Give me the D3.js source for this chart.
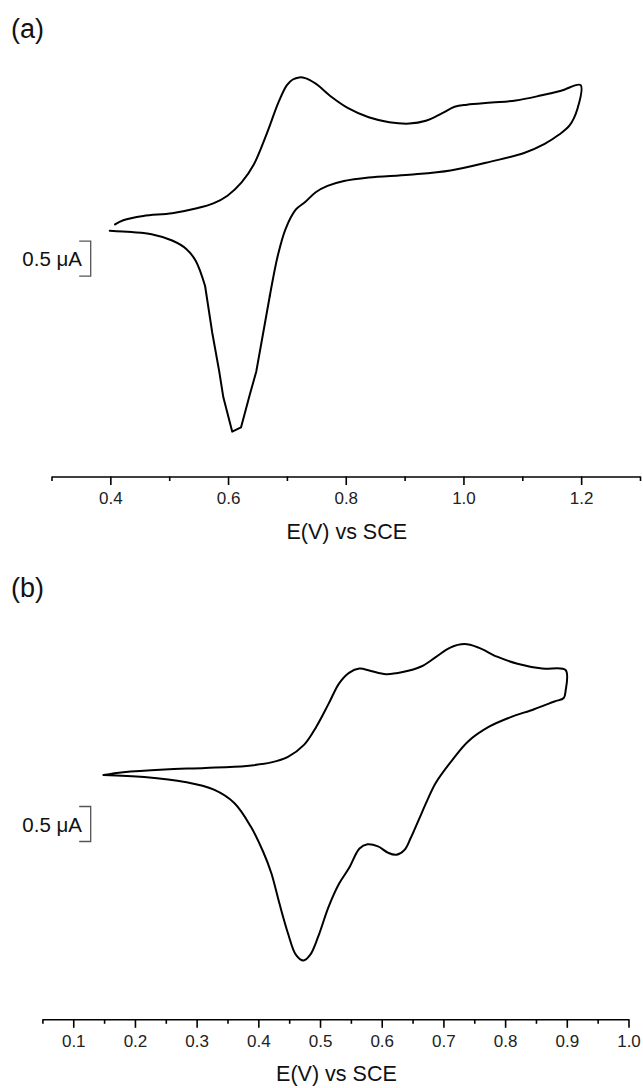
<!DOCTYPE html>
<html><head><meta charset="utf-8">
<script src="https://cdn.jsdelivr.net/npm/d3@7"></script>
<style>body{margin:0;background:#fff}svg{display:block;font-family:"Liberation Sans",Arial,sans-serif}</style>
</head><body>
<svg id="c" width="643" height="1088"></svg>
<script>
// Panel (a) cyclic voltammogram: potential (V vs SCE) and current (µA, arbitrary offset)
const aPotential = [0.408,0.422,0.456,0.505,0.547,0.575,0.599,0.623,0.644,0.665,0.686,0.700,0.710,0.721,0.731,0.749,0.776,0.804,0.839,0.874,0.908,0.936,0.964,0.985,1.006,1.048,1.089,1.131,1.166,1.199,
  1.194,1.180,1.162,1.138,1.103,1.048,0.978,0.908,0.839,0.797,0.769,0.749,0.731,0.715,0.698,0.685,0.671,0.658,0.648,0.637,0.622,0.607,0.592,0.585,0.573,0.561,0.545,0.529,0.505,0.470,0.436,0.399];
const aCurrent = [0.09,0.15,0.21,0.25,0.32,0.39,0.50,0.69,0.95,1.37,1.84,2.08,2.16,2.19,2.18,2.10,1.91,1.75,1.62,1.55,1.53,1.57,1.68,1.77,1.80,1.83,1.86,1.93,2.00,2.08,
  1.75,1.50,1.37,1.24,1.11,0.99,0.86,0.80,0.76,0.71,0.64,0.55,0.41,0.30,0.03,-0.34,-0.93,-1.54,-2.01,-2.34,-2.81,-2.87,-2.38,-2.01,-1.45,-0.79,-0.43,-0.26,-0.14,-0.05,-0.02,0.00];
// index range of the sparsely sampled cathodic peak, drawn with straight segments
const aLinearSpan = [46, 55];
const aTicksMajor = [0.4,0.6,0.8,1.0,1.2];
const aTicksMinor = [0.3,0.5,0.7,0.9,1.1,1.3];
const aScaleBar = [-0.65,-0.15];

// Panel (b)
const bPotential = [0.149,0.181,0.248,0.314,0.381,0.421,0.448,0.474,0.494,0.514,0.531,0.547,0.564,0.581,0.607,0.634,0.664,0.687,0.711,0.734,0.757,0.787,0.820,0.860,0.898,
  0.898,0.895,0.880,0.847,0.807,0.774,0.740,0.714,0.687,0.674,0.660,0.647,0.637,0.624,0.610,0.594,0.577,0.564,0.547,0.531,0.514,0.497,0.484,0.473,0.461,0.448,0.434,0.421,0.408,0.388,0.361,0.328,0.281,0.215,0.149];
const bCurrent = [0.00,0.04,0.08,0.10,0.13,0.18,0.26,0.43,0.69,1.02,1.31,1.46,1.52,1.49,1.44,1.47,1.55,1.68,1.82,1.87,1.82,1.69,1.59,1.52,1.50,
  1.20,1.10,1.05,0.94,0.82,0.69,0.48,0.21,-0.12,-0.36,-0.64,-0.90,-1.07,-1.14,-1.11,-1.02,-0.99,-1.05,-1.33,-1.55,-1.88,-2.31,-2.57,-2.65,-2.57,-2.26,-1.83,-1.40,-1.10,-0.74,-0.40,-0.21,-0.10,-0.03,0.00];
const bTicksMajor = [0.1,0.2,0.3,0.4,0.5,0.6,0.7,0.8,0.9,1.0];
const bTicksMinor = [0.05,0.15,0.25,0.35,0.45,0.55,0.65,0.75,0.85,0.95];
const bScaleBar = [-0.95,-0.45];

const xLabel = "E(V) vs SCE";
const scaleLabel = "0.5 \u03bcA";

const svg = d3.select("#c");

function panel(cfg){
  const g = svg.append("g");
  const x = d3.scaleLinear().domain(cfg.xDomain).range(cfg.xRange);
  const y = d3.scaleLinear().domain([0,1]).range([cfg.y0, cfg.y0-70]);
  g.append("text").attr("x",11).attr("y",cfg.letterY).attr("font-size",27).attr("fill","#111").text(cfg.letter);
  const pts = cfg.V.map((v,i)=>[v,cfg.I[i]]);
  const smooth = d3.line().x(d=>x(d[0])).y(d=>y(d[1])).curve(d3.curveCatmullRom.alpha(0.5));
  const straight = d3.line().x(d=>x(d[0])).y(d=>y(d[1]));
  let segs;
  if (cfg.linearSpan) {
    const [s,e] = cfg.linearSpan;
    segs = [[pts.slice(0,s+1),smooth],[pts.slice(s,e+1),straight],[pts.slice(e),smooth]];
  } else segs = [[pts,smooth]];
  segs.forEach(([p,gen])=>{
    g.append("path").datum(p).attr("fill","none").attr("stroke","#000").attr("stroke-width",2)
      .attr("stroke-linejoin","round").attr("stroke-linecap","round").attr("d", gen);
  });
  // axes
  const ax = g.append("g").attr("transform",`translate(0,${cfg.axisY})`);
  ax.call(d3.axisBottom(x).tickValues(cfg.minor).tickSize(4.5).tickSizeOuter(0).tickFormat(""));
  const ax2 = g.append("g").attr("transform",`translate(0,${cfg.axisY})`);
  ax2.call(d3.axisBottom(x).tickValues(cfg.major).tickSize(8.5).tickSizeOuter(0).tickFormat(d3.format(".1f")));
  ax2.select(".domain").remove();
  g.selectAll(".domain, .tick line").attr("stroke","#000").attr("stroke-width",1.6);
  ax2.selectAll(".tick text").attr("font-size",17).attr("font-family","Liberation Sans, Arial, sans-serif")
    .attr("fill","#222").attr("y",27.8).attr("dy",null);
  g.append("text").attr("x",(cfg.xRange[0]+cfg.xRange[1])/2+1).attr("y",cfg.axisY+62).attr("text-anchor","middle")
    .attr("font-size",21.5).attr("fill","#111").text(xLabel);
  // scale bar
  const sb = cfg.bar;
  const bx = 90.7;
  g.append("path").attr("fill","none").attr("stroke","#555").attr("stroke-width",1.3)
    .attr("d",`M${bx-11.5},${y(sb[1])}H${bx}V${y(sb[0])}H${bx-11.5}`);
  g.append("text").attr("x",82).attr("y",(y(sb[0])+y(sb[1]))/2+7.5).attr("text-anchor","end")
    .attr("font-size",20.5).attr("fill","#111").text(scaleLabel);
}

panel({letter:"(a)", letterY:38, V:aPotential, I:aCurrent, linearSpan:aLinearSpan, xDomain:[0.3,1.3], xRange:[51.5,640], y0:230.7,
  axisY:476.5, major:aTicksMajor, minor:aTicksMinor, bar:aScaleBar});
panel({letter:"(b)", letterY:597, V:bPotential, I:bCurrent, xDomain:[0.05,1.0], xRange:[42.4,628.5], y0:775,
  axisY:1019.3, major:bTicksMajor, minor:bTicksMinor, bar:bScaleBar});
</script>
</body></html>
